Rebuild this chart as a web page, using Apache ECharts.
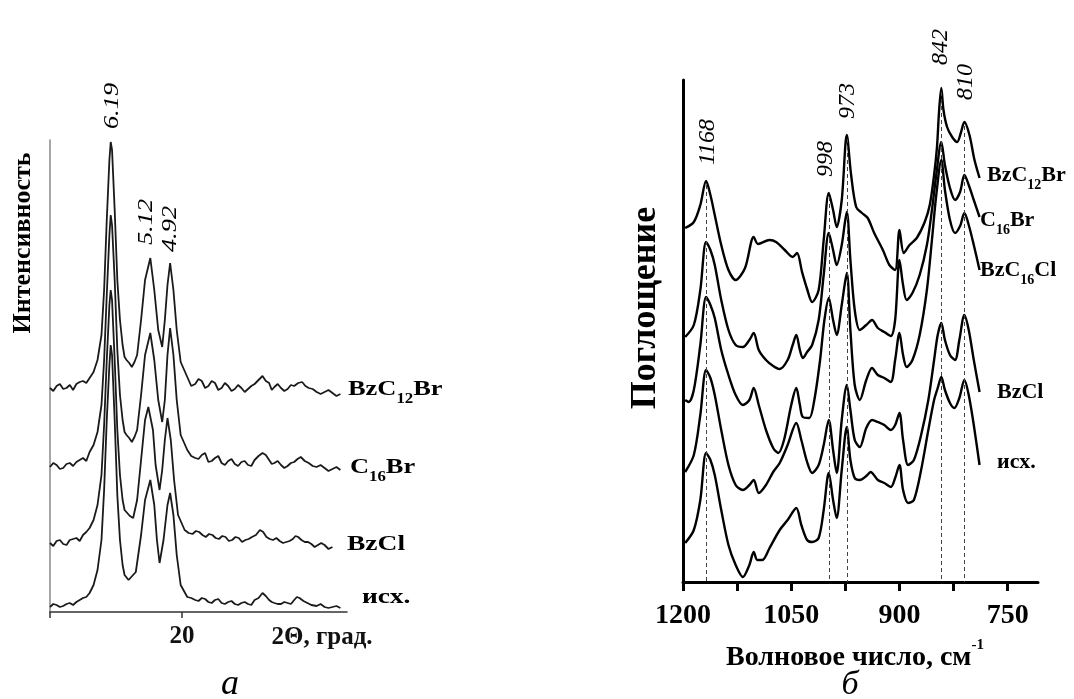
<!DOCTYPE html>
<html>
<head>
<meta charset="utf-8">
<script src="https://cdn.jsdelivr.net/npm/echarts@6/dist/echarts.min.js"></script>
<style>
  html, body { margin: 0; background: #fff; }
  #chart { width: 1074px; height: 699px; }
</style>
</head>
<body>
<div id="chart"></div>
<script>
// --- panel a: XRD patterns, [2theta, intensity a.u.] (noise points appended, sorted below) ---
const xrdBzC12Br = [[10,224],[10.5,226],[11,223],[11.5,227],[12,228],[12.5,231],[13,234],[13.3,240],[13.6,252],[13.9,277],[14.1,322],[14.3,392],[14.5,452],[14.6,470],[14.7,462],[14.9,402],[15.1,332],[15.3,292],[15.5,267],[15.8,252],[16.2,245],[16.6,257],[16.9,292],[17.2,332],[17.6,354],[17.9,322],[18.2,282],[18.5,265],[18.7,292],[18.9,327],[19.1,349],[19.35,322],[19.6,282],[19.9,250],[20.4,235],[21,228],[21.5,231],[22,226],[22.5,229],[23,224],[23.5,226],[24,223],[24.5,224],[25,223],[25.5,228],[26.1,236],[26.6,229],[27,225],[27.5,224],[28,223],[28.5,226],[29.1,230],[29.6,224],[30.2,220],[30.8,220],[31.4,219],[32,218],
  [10.25,221],[10.75,228],[11.25,224],[11.75,222],[12.25,230],[12.75,229],[15.65,255],[16,249],[16.4,250],[20.7,226],[21.25,233],[21.75,224],[22.25,231],[22.75,222],[23.25,229],[23.75,221],[24.25,227],[24.75,220],[25.25,226],[25.8,232],[26.35,231],[26.8,222],[27.25,228],[27.75,221],[28.25,227],[28.8,229],[29.35,226],[29.9,223],[30.5,218],[31.1,222],[31.7,216]];
const xrdC16Br = [[10,145],[10.5,147],[11,144],[11.5,149],[12,150],[12.5,154],[13,160],[13.3,167],[13.6,180],[13.9,207],[14.1,252],[14.3,317],[14.5,377],[14.6,397],[14.7,387],[14.9,332],[15.1,262],[15.3,217],[15.5,192],[15.8,177],[16.2,170],[16.6,182],[16.9,217],[17.2,257],[17.6,279],[17.9,252],[18.2,212],[18.5,190],[18.7,212],[18.9,257],[19.1,284],[19.35,257],[19.6,212],[19.9,177],[20.4,162],[21,154],[21.5,157],[22,150],[22.5,154],[23,149],[23.5,151],[24,148],[24.5,150],[25,147],[25.5,152],[26.1,159],[26.6,152],[27,149],[27.5,147],[28,146],[28.5,150],[29,155],[29.6,149],[30.2,145],[30.8,144],[31.4,143],[32,142],
  [10.25,149],[10.75,143],[11.25,148],[11.75,146],[12.25,152],[12.75,151],[15.65,180],[16,174],[16.4,175],[20.7,156],[21.25,153],[21.75,159],[22.25,151],[22.75,156],[23.25,147],[23.75,153],[24.25,146],[24.75,151],[25.25,146],[25.8,156],[26.35,157],[26.8,148],[27.25,151],[27.75,144],[28.25,149],[28.75,153],[29.3,151],[29.9,146],[30.5,147],[31.1,141],[31.7,145]];
const xrdBzCl = [[10,69],[10.5,71],[11,68],[11.5,72],[12,74],[12.5,77],[13,84],[13.3,92],[13.6,107],[13.9,137],[14.1,187],[14.3,252],[14.5,307],[14.6,322],[14.7,312],[14.9,252],[15.1,182],[15.3,137],[15.5,112],[15.8,100],[16.3,94],[16.6,112],[16.9,152],[17.2,192],[17.45,205],[17.8,182],[18,147],[18.3,122],[18.5,142],[18.7,172],[18.9,194],[19.15,172],[19.4,132],[19.7,97],[20.2,82],[20.8,78],[21.3,80],[21.8,75],[22.3,77],[22.8,73],[23.3,75],[23.8,72],[24.3,74],[24.8,72],[25.3,75],[25.9,82],[26.4,75],[26.9,72],[27.4,71],[27.9,70],[28.4,73],[28.8,75],[29.3,70],[29.8,68],[30.3,67],[30.8,67],[31.4,65],
  [10.25,66],[10.75,72],[11.25,67],[11.75,73],[12.25,71],[12.75,80],[15.65,102],[16.05,96],[20.5,79],[21.05,81],[21.55,77],[22.05,78],[22.55,74],[23.05,76],[23.55,71],[24.05,75],[24.55,70],[25.05,73],[25.6,77],[26.15,80],[26.65,73],[27.15,74],[27.65,69],[28.15,71],[28.6,76],[29.05,72],[29.55,70],[30.05,65],[30.55,69],[31.1,63]];
const xrdIsh = [[10,5],[10.5,7],[11,6],[11.5,9],[12,10],[12.5,14],[13,19],[13.3,27],[13.6,42],[13.9,72],[14.1,122],[14.3,192],[14.5,247],[14.6,267],[14.7,257],[14.9,192],[15.1,117],[15.3,72],[15.5,47],[15.8,35],[16.1,30],[16.5,40],[16.9,77],[17.2,112],[17.6,132],[17.9,107],[18.1,72],[18.3,49],[18.6,72],[18.9,107],[19.1,119],[19.35,97],[19.6,57],[19.9,27],[20.4,15],[21,12],[21.5,14],[22,10],[22.5,12],[23,9],[23.5,10],[24,8],[24.5,9],[25,8],[25.5,12],[26.1,19],[26.6,12],[27,9],[27.5,8],[28,9],[28.5,12],[28.9,14],[29.5,9],[30.2,6],[30.8,5],[31.4,5],[32,4],
  [10.25,8],[10.75,5],[11.25,8],[11.75,7],[12.25,12],[12.75,15],[15.65,37],[15.95,32],[20.7,14],[21.25,11],[21.75,13],[22.25,9],[22.75,13],[23.25,8],[23.75,11],[24.25,7],[24.75,10],[25.25,7],[25.8,14],[26.35,16],[26.8,10],[27.25,8],[27.75,10],[28.25,8],[28.7,15],[29.2,11],[29.8,7],[30.5,8],[31.1,4],[31.7,6]];
const xrdTicks = [10, 20];
const xrdTickLabels = [20];

// --- panel b: IR spectra, [wavenumber, absorbance a.u.] ---
const irBzC12Br = [[1197,354],[1185,360],[1176,377],[1168,401],[1162,387],[1156,367],[1147,337],[1137,312],[1127,302],[1114,314],[1102,345],[1096,338],[1080,342],[1071,340],[1059,332],[1048,325],[1042,329],[1035,310],[1028,293],[1021,280],[1012,292],[1005,342],[998,389],[992,372],[987,355],[980,382],[973,447],[967,407],[960,375],[952,369],[944,364],[935,349],[923,332],[914,317],[906,312],[900,352],[894,329],[886,337],[876,344],[865,360],[858,377],[852,407],[848,435],[845,472],[842,494],[839,472],[834,455],[827,445],[820,440],[815,449],[810,460],[803,447],[796,422],[789,404]];
const irC16Br = [[1197,245],[1185,257],[1176,292],[1168,340],[1162,332],[1156,317],[1147,282],[1137,252],[1127,237],[1117,235],[1108,242],[1102,249],[1095,232],[1085,222],[1075,216],[1066,213],[1055,222],[1048,237],[1043,247],[1038,232],[1034,224],[1028,230],[1021,237],[1012,262],[1005,307],[998,349],[992,332],[987,317],[980,337],[973,370],[968,322],[962,272],[955,252],[946,257],[938,262],[930,254],[921,250],[912,246],[906,262],[900,322],[895,297],[890,282],[882,289],[872,307],[862,337],[855,372],[849,407],[842,440],[837,417],[830,394],[823,382],[816,390],[810,407],[804,397],[797,382],[789,365]];
const irBzC16Cl = [[1197,182],[1192,180],[1185,192],[1176,237],[1168,285],[1162,277],[1156,264],[1147,232],[1137,207],[1127,187],[1117,177],[1108,182],[1102,194],[1095,177],[1085,152],[1075,134],[1068,129],[1060,142],[1050,177],[1043,194],[1038,177],[1034,165],[1025,164],[1018,182],[1010,222],[1004,262],[998,284],[992,262],[987,247],[980,277],[973,309],[968,252],[962,197],[955,182],[946,202],[938,214],[930,207],[921,204],[912,200],[906,222],[900,249],[895,227],[890,215],[882,222],[872,247],[862,292],[855,342],[849,387],[842,422],[837,392],[830,362],[823,349],[816,356],[810,369],[804,357],[797,337],[789,312]];
const irBzCl = [[1197,110],[1185,127],[1176,167],[1168,212],[1162,204],[1156,187],[1147,152],[1137,117],[1127,97],[1117,92],[1108,97],[1102,102],[1095,89],[1085,97],[1075,110],[1066,119],[1055,137],[1043,159],[1036,142],[1028,120],[1021,109],[1012,117],[1005,137],[998,162],[992,132],[987,109],[980,162],[973,197],[968,172],[962,142],[955,135],[946,154],[938,162],[930,160],[921,157],[912,152],[906,157],[900,169],[895,142],[888,117],[880,122],[870,147],[860,182],[852,222],[847,247],[842,259],[837,242],[830,227],[823,222],[817,242],[810,267],[804,252],[797,222],[789,190]];
const irIsh = [[1197,39],[1185,52],[1176,82],[1168,129],[1162,122],[1156,107],[1147,72],[1137,37],[1127,17],[1117,5],[1108,17],[1102,30],[1097,22],[1090,22],[1080,34],[1066,52],[1055,62],[1043,74],[1036,57],[1028,42],[1021,40],[1012,44],[1005,72],[998,109],[992,82],[987,64],[980,112],[973,155],[968,122],[962,104],[955,102],[946,106],[940,110],[930,102],[921,99],[912,95],[906,104],[900,117],[895,92],[888,79],[880,82],[870,112],[860,152],[852,182],[847,194],[842,205],[837,192],[830,179],[824,174],[817,184],[810,202],[804,187],[797,157],[789,117]];
const irPeaks = [1168, 998, 973, 842, 810];
const irTicks = [1200, 1125, 1050, 975, 900, 825, 750];
const irTickLabels = [1200, 1050, 900, 750];

const SERIF = "'Liberation Serif', 'Times New Roman', serif";

// rich styles for sub/superscripts
const labelRich = (size) => ({
  b: { fontFamily: SERIF, fontSize: size, fontWeight: 'bold', color: '#000', lineHeight: size + 6, verticalAlign: 'top' },
  s: { fontFamily: SERIF, fontSize: Math.round(size * 0.62), fontWeight: 'bold', color: '#000', lineHeight: Math.round(size * 0.62), verticalAlign: 'bottom' },
});

const text = (x, y, str, style, extra) => Object.assign({
  type: 'text', x, y, silent: true,
  style: Object.assign({ text: str, fontFamily: SERIF, fill: '#000', align: 'center', verticalAlign: 'middle' }, style),
}, extra || {});

const vert = { rotation: Math.PI / 2 };

const peakTop = (p) => irBzC12Br.find((d) => d[0] === p)[1] - 4;

const xrdLine = (name, data) => ({
  name, type: 'line', xAxisIndex: 0, yAxisIndex: 0,
  data: data.slice().sort((a, b) => a[0] - b[0]),
  showSymbol: false, smooth: false,
  lineStyle: { color: '#1a1a1a', width: 1.8 },
});
const irLine = (name, data, extra) => Object.assign({
  name, type: 'line', xAxisIndex: 1, yAxisIndex: 1, data,
  showSymbol: false, smooth: 0.3,
  lineStyle: { color: '#000', width: 2.4 },
}, extra || {});

const chart = echarts.init(document.getElementById('chart'));
chart.setOption({
  animation: false,
  backgroundColor: '#fff',
  grid: [
    { left: 50, top: 140, width: 297, height: 472 },
    { left: 683, top: 80, width: 355, height: 502 },
  ],
  xAxis: [
    {
      gridIndex: 0, type: 'value', min: 10, max: 32.5,
      axisLine: { lineStyle: { color: '#333', width: 1.5 } },
      axisTick: { customValues: xrdTicks, inside: false, length: 6, lineStyle: { color: '#333', width: 1.5 } },
      axisLabel: {
        customValues: xrdTickLabels, margin: 12, formatter: (v) => String(v),
        fontFamily: SERIF, fontSize: 25, fontWeight: 'bold', color: '#111',
      },
      splitLine: { show: false },
    },
    {
      gridIndex: 1, type: 'value', min: 708, max: 1200, inverse: true,
      axisLine: { lineStyle: { color: '#000', width: 3 } },
      axisTick: { customValues: irTicks, length: 9, lineStyle: { color: '#000', width: 3 } },
      axisLabel: {
        customValues: irTickLabels, margin: 20, formatter: (v) => String(v),
        fontFamily: SERIF, fontSize: 28, fontWeight: 'bold', color: '#000',
      },
      splitLine: { show: false },
    },
  ],
  yAxis: [
    {
      gridIndex: 0, type: 'value', min: 0, max: 472,
      axisLine: { show: true, lineStyle: { color: '#888', width: 1.5 } },
      axisTick: { show: false }, axisLabel: { show: false }, splitLine: { show: false },
    },
    {
      gridIndex: 1, type: 'value', min: 0, max: 502,
      axisLine: { show: true, lineStyle: { color: '#000', width: 3 } },
      axisTick: { show: false }, axisLabel: { show: false }, splitLine: { show: false },
    },
  ],
  series: [
    xrdLine('BzC12Br', xrdBzC12Br),
    xrdLine('C16Br', xrdC16Br),
    xrdLine('BzCl', xrdBzCl),
    xrdLine('исх.', xrdIsh),
    irLine('BzC12Br', irBzC12Br, {
      markLine: {
        silent: true, symbol: 'none', label: { show: false },
        lineStyle: { color: '#444', width: 1, type: [4, 3] },
        data: irPeaks.map((p) => [{ coord: [p, peakTop(p)] }, { coord: [p, 0] }]),
      },
    }),
    irLine('C16Br', irC16Br),
    irLine('BzC16Cl', irBzC16Cl),
    irLine('BzCl', irBzCl),
    irLine('исх.', irIsh),
  ],
  graphic: [
    // panel a texts
    text(23, 243, 'Интенсивность', { fontSize: 26, fontWeight: 'bold' }, vert),
    text(112, 106, '6.19', { fontSize: 22, fontStyle: 'italic' }, { rotation: Math.PI / 2, scaleX: 1.2 }),
    text(146, 222, '5.12', { fontSize: 22, fontStyle: 'italic' }, { rotation: Math.PI / 2, scaleX: 1.2 }),
    text(170, 229, '4.92', { fontSize: 22, fontStyle: 'italic' }, { rotation: Math.PI / 2, scaleX: 1.2 }),
    text(348, 392, '{b|BzC}{s|12}{b|Br}', { align: 'left', rich: labelRich(22) }, { scaleX: 1.2 }),
    text(350, 470, '{b|C}{s|16}{b|Br}', { align: 'left', rich: labelRich(22) }, { scaleX: 1.2 }),
    text(347, 547, '{b|BzCl}', { align: 'left', rich: labelRich(22) }, { scaleX: 1.25 }),
    text(362, 600, '{b|исх.}', { align: 'left', rich: labelRich(22) }, { scaleX: 1.25 }),
    text(322, 638, '2Θ, град.', { fontSize: 25, fontWeight: 'bold', fill: '#111' }),
    text(230, 685, 'а', { fontSize: 36, fontStyle: 'italic' }),
    // panel b texts
    text(646, 308, 'Поглощение', { fontSize: 36, fontWeight: 'bold' }, vert),
    text(708, 142, '1168', { fontSize: 24, fontStyle: 'italic' }, vert),
    text(826, 159, '998', { fontSize: 24, fontStyle: 'italic' }, vert),
    text(848, 101, '973', { fontSize: 24, fontStyle: 'italic' }, vert),
    text(941, 47, '842', { fontSize: 24, fontStyle: 'italic' }, vert),
    text(966, 82, '810', { fontSize: 24, fontStyle: 'italic' }, vert),
    text(987, 178, '{b|BzC}{s|12}{b|Br}', { align: 'left', rich: labelRich(22) }),
    text(980, 223, '{b|C}{s|16}{b|Br}', { align: 'left', rich: labelRich(22) }),
    text(980, 273, '{b|BzC}{s|16}{b|Cl}', { align: 'left', rich: labelRich(22) }),
    text(997, 395, '{b|BzCl}', { align: 'left', rich: labelRich(22) }),
    text(997, 465, '{b|исх.}', { align: 'left', rich: labelRich(22) }),
    text(855, 655, '{m|Волновое число, см}{p|-1}', {
      rich: {
        m: { fontFamily: SERIF, fontSize: 28, fontWeight: 'bold', color: '#000', lineHeight: 34, verticalAlign: 'bottom' },
        p: { fontFamily: SERIF, fontSize: 15, fontWeight: 'bold', color: '#000', lineHeight: 15, verticalAlign: 'top' },
      },
    }),
    text(850, 685, 'б', { fontSize: 34, fontStyle: 'italic' }),
  ],
});
</script>
</body>
</html>
